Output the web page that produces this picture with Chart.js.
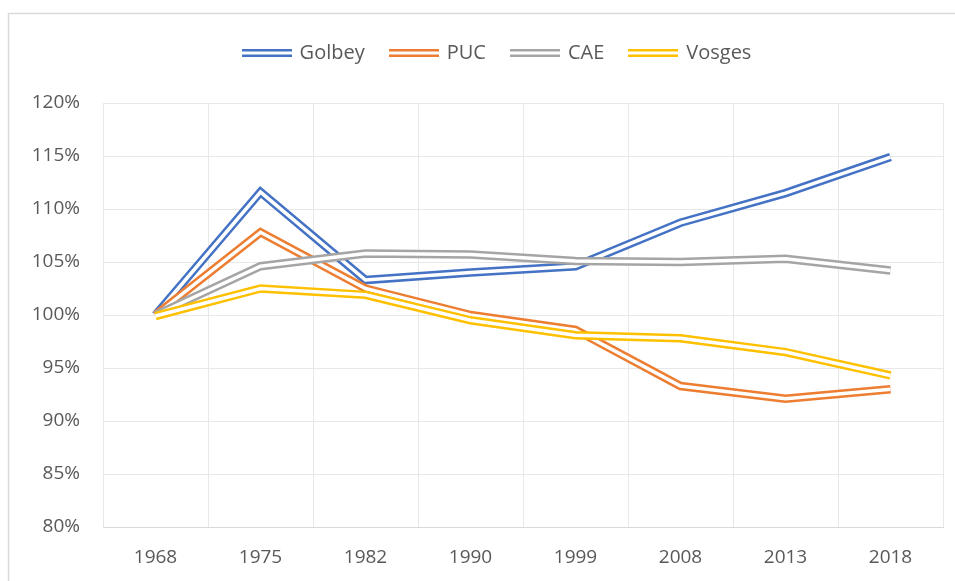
<!DOCTYPE html>
<html>
<head>
<meta charset="utf-8">
<script src="https://cdn.jsdelivr.net/npm/chart.js@4.4.1/dist/chart.umd.min.js"></script>
<style>
  html, body { margin: 0; padding: 0; background: #ffffff; }
  #wrap { width: 955px; height: 581px; position: relative; }
</style>
</head>
<body>
<div id="wrap"><canvas id="c" width="955" height="581"></canvas></div>
<script>
// ---- data ----
const years = ['1968', '1975', '1982', '1990', '1999', '2008', '2013', '2018'];
const seriesNames = ['Golbey', 'PUC', 'CAE', 'Vosges'];
const golbey = [100.0, 111.6, 103.3, 104.0, 104.6, 108.7, 111.5, 114.9];
const puc    = [100.0, 107.8, 102.5, 100.0, 98.6, 93.3, 92.1, 93.0];
const cae    = [100.0, 104.6, 105.8, 105.7, 105.1, 105.0, 105.3, 104.2];
const vosges = [99.9, 102.5, 101.9, 99.5, 98.1, 97.8, 96.5, 94.3];
const yTicks = [80, 85, 90, 95, 100, 105, 110, 115, 120];

const seriesValues = [golbey, puc, cae, vosges];
const colors = ['#4472C4', '#ED7D31', '#A5A5A5', '#FFC000'];

function legendIcon(color) {
  const cv = document.createElement('canvas');
  cv.width = 50; cv.height = 8;
  const g = cv.getContext('2d');
  g.fillStyle = color;
  g.fillRect(0, 0, 50, 2.5);
  g.fillRect(0, 5.5, 50, 2.5);
  return cv;
}

Chart.defaults.font.family = "'Open Sans', sans-serif";
Chart.defaults.color = '#595959';

const datasets = [];
seriesNames.forEach((name, i) => {
  const n = seriesNames.length;
  // outer coloured stroke
  datasets.push({
    label: name,
    data: seriesValues[i],
    borderColor: colors[i],
    backgroundColor: colors[i],
    borderWidth: 8.5,
    borderJoinStyle: 'miter',
    borderCapStyle: 'butt',
    tension: 0,
    pointRadius: 0,
    pointHoverRadius: 0,
    pointStyle: legendIcon(colors[i]),
    fill: false,
    order: 2 * (n - 1 - i) + 1
  });
  // inner white gap -> double line look
  datasets.push({
    label: '__gap_' + name,
    data: seriesValues[i],
    borderColor: '#ffffff',
    borderWidth: 3.5,
    borderJoinStyle: 'miter',
    borderCapStyle: 'butt',
    tension: 0,
    pointRadius: 0,
    pointHoverRadius: 0,
    fill: false,
    order: 2 * (n - 1 - i)
  });
});

const frame = {
  id: 'frame',
  beforeDraw(chart) {
    const ctx = chart.ctx;
    ctx.save();
    ctx.fillStyle = '#ffffff';
    ctx.fillRect(0, 0, chart.width, chart.height);
    ctx.strokeStyle = '#D9D9D9';
    ctx.lineWidth = 1.5;
    ctx.strokeRect(8.5, 13.5, 2000, 2000);
    ctx.restore();
  }
};

// the original chart is wider than the visible crop: shift legend centre accordingly
const legendShift = {
  id: 'legendShift',
  afterLayout(chart) {
    const lg = chart.legend;
    if (lg) { lg.left += 26; lg.right += 26; }
  }
};

new Chart(document.getElementById('c'), {
  type: 'line',
  data: { labels: years, datasets },
  options: {
    responsive: false,
    animation: false,
    layout: { padding: { top: 17, left: 0, right: 12, bottom: 0 } },
    plugins: {
      legend: {
        position: 'top',
        labels: {
          usePointStyle: true,
          pointStyleWidth: 46,
          padding: 26,
          color: '#595959',
          font: { size: 20 },
          filter: (item) => !item.text.startsWith('__gap_'),
          sort: (a, b) => a.datasetIndex - b.datasetIndex
        }
      },
      title: {
        display: true,
        text: '',
        weight: 500,
        font: { size: 10 },
        padding: { top: 0, bottom: 18 }
      },
      tooltip: { enabled: false }
    },
    scales: {
      x: {
        offset: true,
        grid: { offset: true, color: '#E8E8E8', lineWidth: 1, drawTicks: false },
        border: { color: '#D9D9D9', width: 1 },
        ticks: { padding: 19, font: { size: 19 }, color: '#595959' },
        afterFit: (s) => { s.height = 54; }
      },
      y: {
        min: 80,
        max: 120,
        afterBuildTicks: (s) => { s.ticks = yTicks.map(v => ({ value: v })); },
        grid: { color: '#E8E8E8', lineWidth: 1, drawTicks: false },
        border: { display: false },
        ticks: { padding: 23, font: { size: 19 }, color: '#595959', callback: (v) => v + '%' },
        afterFit: (s) => { s.width = 103; }
      }
    }
  },
  plugins: [frame, legendShift]
});
</script>
</body>
</html>
